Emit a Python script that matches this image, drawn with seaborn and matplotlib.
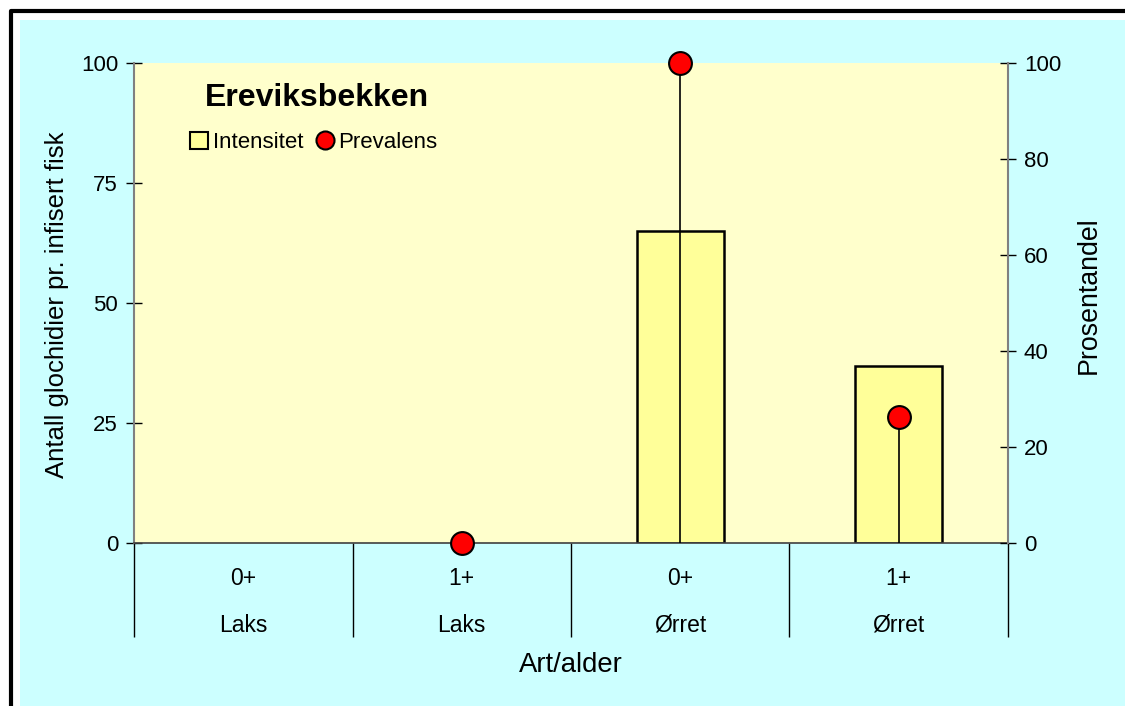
import numpy as np
import pandas as pd
import matplotlib
matplotlib.use("Agg")
import matplotlib.pyplot as plt
import seaborn as sns
from matplotlib.patches import Patch, Rectangle
from matplotlib.lines import Line2D

# Data
alder = ["0+", "1+", "0+", "1+"]
art = ["Laks", "Laks", "Ørret", "Ørret"]
intensitet = [np.nan, np.nan, 65.0, 36.8]
prevalens = [np.nan, 0.0, 100.0, 26.3]

gruppe = [f"{a} {b}" for a, b in zip(alder, art)]
df = pd.DataFrame({"gruppe": gruppe, "intensitet": intensitet, "prevalens": prevalens})
pos = np.arange(len(gruppe))

plt.rcParams["font.family"] = ["Liberation Sans", "DejaVu Sans"]

fig = plt.figure(figsize=(11.25, 7.06), dpi=100)
fig.patch.set_facecolor("white")
# cyan bakgrunn + svart ramme
fig.patches.append(Rectangle((20 / 1125, 0), 1, (706 - 20) / 706, transform=fig.transFigure,
                             facecolor="#CCFFFF", edgecolor="none", zorder=-10))
fig.lines.append(Line2D([10.5 / 1125, 10.5 / 1125, 1], [0, (706 - 10.5) / 706, (706 - 10.5) / 706],
                        transform=fig.transFigure, color="black", lw=3, zorder=-9))

ax = fig.add_axes([134 / 1125, (706 - 543) / 706, 874 / 1125, 480 / 706])
ax.set_facecolor("#FFFFCC")

sns.barplot(data=df, x="gruppe", y="intensitet", order=gruppe, color="#FFFF99", saturation=1,
            edgecolor="black", linewidth=1.8, width=0.4, errorbar=None, ax=ax)
ax.set_xlim(-0.5, 3.5)
ax.set_ylim(0, 100)
ax.set_yticks([0, 25, 50, 75, 100])
ax.set_xlabel("")
ax.set_ylabel("Antall glochidier pr. infisert fisk", fontsize=18.5)
ax.yaxis.set_label_coords(-0.0745, 0.496)

ax.set_xticks(pos)
ax.set_xticklabels([])
ax.set_xticks(np.arange(-0.5, 4, 1), minor=True)
ax.tick_params(axis="x", which="major", length=0)
ax.tick_params(axis="x", which="minor", length=68, width=1, color="black", direction="out")
ax.tick_params(axis="y", direction="inout", length=11, width=1, pad=6, labelsize=16)

for s in ["top", "right"]:
    ax.spines[s].set_visible(False)
ax.spines["left"].set_color("#808080")
ax.spines["left"].set_linewidth(1.5)
ax.spines["bottom"].set_color("#404040")
ax.spines["bottom"].set_linewidth(1.2)

# kategori-etiketter i to nivåer
for x, a, b in zip(pos, alder, art):
    ax.text(x, -0.073, a, transform=ax.get_xaxis_transform(), ha="center", va="center", fontsize=16.5)
    ax.text(x, -0.171, b, transform=ax.get_xaxis_transform(), ha="center", va="center", fontsize=16.5)
ax.text(0.5, -0.254, "Art/alder", transform=ax.transAxes, ha="center", va="center", fontsize=19.8)

# Prevalens på høyre akse
ax2 = ax.twinx()
ax2.vlines(pos, 0, prevalens, color="black", lw=1.2, zorder=2)
sns.scatterplot(x=pos, y=prevalens, s=270, color="#FF0000", edgecolor="black", linewidth=1.5,
                clip_on=False, zorder=3, ax=ax2)
ax2.set_ylim(0, 100)
ax2.set_xlim(-0.5, 3.5)
ax2.set_yticks([0, 20, 40, 60, 80, 100])
ax2.set_ylabel("Prosentandel", fontsize=19.3)
ax2.yaxis.set_label_coords(1.078, 0.517)
ax2.tick_params(axis="y", direction="inout", length=11, width=1, pad=6, labelsize=16)
for s in ["top", "left", "bottom"]:
    ax2.spines[s].set_visible(False)
ax2.spines["right"].set_color("#808080")
ax2.spines["right"].set_linewidth(1.5)

# tittel og forklaring
ax.text(0.209, 0.927, "Ereviksbekken", transform=ax.transAxes, ha="center", va="center",
        fontsize=23, fontweight="bold")
handles = [Patch(facecolor="#FFFF99", edgecolor="black", linewidth=1.5, label="Intensitet"),
           Line2D([], [], marker="o", ls="none", markersize=13, markerfacecolor="#FF0000",
                  markeredgecolor="black", markeredgewidth=1.5, label="Prevalens")]
ax.legend(handles=handles, ncol=2, frameon=False, loc="center", bbox_to_anchor=(0.206, 0.835),
          fontsize=16, handlelength=0.8, handleheight=0.8, handletextpad=0.2, columnspacing=0.6)

fig.savefig("out.png", dpi=100)
